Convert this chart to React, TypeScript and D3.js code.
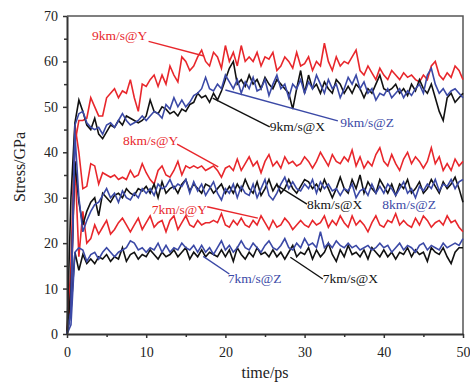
import { useEffect, useRef } from 'react';
import * as d3 from 'd3';

// time axis: 0 .. 50 ps, every 0.5 ps
const timePs = d3.range(0, 50.001, 0.5);

const y9 = [0, 12, 42, 47, 47, 47.5, 52, 50, 48, 48, 52, 53, 54, 52, 53.5, 53, 56, 52, 49, 55, 54.5, 56, 57, 54.5, 57, 55, 59, 57, 55.5, 61, 60, 58, 59, 61, 62.5, 60, 59, 62, 61, 58.5, 63.5, 60, 62, 59, 63.5, 60, 61, 60, 62, 59, 61, 60.5, 62, 58, 59, 61, 60, 58.5, 62, 59, 59.5, 61, 58, 60, 59, 64, 60, 58, 61, 59, 60, 59.5, 61, 62.5, 58, 57, 59, 57.5, 56, 58.5, 57, 56, 58, 57, 56, 57.5, 56.5, 57, 56, 55.5, 57, 56, 59, 60, 57, 56, 57.5, 56.5, 59, 58, 56];
const x9 = [0, 30, 46.5, 51.5, 49, 46, 45, 47.5, 44, 43, 44.5, 46, 45.5, 47, 46, 48, 47.5, 47, 46.5, 47, 48, 51.5, 49, 48.5, 50, 49.5, 48.5, 49, 48, 49.5, 49, 50.5, 51, 53, 52, 52.5, 51, 53, 51.5, 53.5, 56, 58.5, 60, 55, 56, 54.5, 57, 55, 56, 54, 56.5, 55, 54, 56, 55, 54, 53, 49.5, 54, 58, 53, 57, 54, 55, 53, 55.5, 54, 53, 56, 55, 53, 54.5, 53, 55, 54, 52, 54, 53, 55, 57, 54, 53.5, 54, 55, 53, 54, 52.5, 55, 53.5, 56, 54, 53, 55, 52, 49, 47, 52, 53, 51, 52, 53];
const z9 = [0, 5, 46, 48.5, 49, 46.5, 45.5, 45, 45.5, 44, 46, 46.5, 45.5, 47, 48.5, 47, 46, 46.5, 47, 48, 47, 48, 49, 48.5, 47.5, 50.5, 49.5, 52, 50, 51.5, 50, 51, 52.5, 53, 54, 56.5, 54, 53.5, 55, 54, 57, 55.5, 54, 56, 53, 55.5, 54, 56.5, 53.5, 54, 56, 52.5, 55, 57, 54, 55, 52, 55, 54, 56, 53, 55.5, 54, 57, 55, 53, 56, 54, 55, 52, 54, 56.5, 55, 57, 54, 55.5, 53, 54, 51.5, 53, 52.5, 54, 52, 53, 54, 52, 53.5, 52.5, 54, 55, 53, 57, 58.5, 55, 53, 54, 52.5, 53.5, 54, 53, 52];

const y8 = [0, 15, 46, 40, 32, 32.5, 37.5, 37, 33, 35.5, 35, 34.5, 35, 34, 34.5, 34, 36, 34.5, 35, 37.5, 35.5, 34, 33, 36, 37, 35, 34.5, 36, 38, 35, 37, 36.5, 37, 36.5, 37, 36, 36.5, 37, 36, 34.5, 36.5, 37, 36, 38.5, 36, 37.5, 39, 37, 38, 35.5, 38, 39.5, 37, 38, 36.5, 39, 37.5, 38, 37, 37.5, 39, 38, 36.5, 38, 40, 38.5, 37, 39.5, 38, 37.5, 39, 38, 40.5, 37, 39, 36.5, 38, 37, 39.5, 41, 38, 37, 39.5, 37.5, 36, 38.5, 40, 37.5, 39, 38, 36.5, 38, 41, 37.5, 39, 36, 37.5, 36, 38.5, 37, 38];
const x8 = [0, 10, 38, 29, 24, 27, 29, 30, 26, 31, 30, 29, 30.5, 31, 30, 32, 31, 30.5, 32, 31.5, 32.5, 31, 33, 30, 33.5, 31, 32, 32.5, 31, 33, 34, 31.5, 33, 32, 31, 33, 32.5, 31, 32, 33, 31, 32.5, 31, 33, 31.5, 34, 32, 31, 33.5, 30.5, 32, 34, 31.5, 33, 31, 32, 34, 32, 31, 32.5, 34, 33.5, 32, 33, 31.5, 34, 32, 30, 32, 34.5, 32, 31, 34, 32, 35, 31, 33.5, 32, 31, 34, 32.5, 31, 33, 30.5, 33, 32, 34, 31, 32, 33.5, 31, 32, 34, 32.5, 31, 33.5, 32, 33, 34.5, 32, 29];
const z8 = [0, 5, 44, 30, 22.5, 25, 27, 28.5, 29, 30.5, 32, 30, 31, 29, 31.5, 30, 29.5, 31, 30, 32, 31, 32, 30.5, 33, 32, 32.5, 34, 32, 33, 32.5, 34, 31, 33.5, 31.5, 33, 30.5, 32, 33.5, 31, 29.5, 32, 31, 33, 30, 32.5, 31, 30.5, 33, 30, 32, 34, 30.5, 29.5, 31, 33, 34.5, 32, 33.5, 32, 31.5, 33, 32, 34, 31, 33.5, 32, 33, 31.5, 32, 30.5, 32, 31.5, 33, 30, 31.5, 32, 30.5, 33, 31, 32.5, 31, 33, 32, 30.5, 32, 33.5, 31, 32, 30, 32.5, 31.5, 33, 32, 34, 31.5, 33, 32.5, 34, 32, 33.5, 34];

const y7 = [0, 8, 38, 17, 27, 20, 21, 24, 22, 23.5, 25, 22, 23, 24.5, 25.5, 24, 22.5, 24, 25.5, 23, 24.5, 26, 23.5, 24.5, 25, 22.5, 25, 26, 23, 24.5, 26, 24, 23.5, 25, 24, 24.5, 24.5, 25, 24.5, 26.5, 24, 23.5, 25, 24, 25.5, 24, 23.5, 25, 24, 26, 24.5, 23, 25, 23.5, 24, 25.5, 24.5, 23, 24, 25, 24, 23.5, 25, 24, 24.5, 26, 23.5, 25, 24, 26, 24.5, 23.5, 26, 24, 25, 24, 22.5, 24.5, 26, 24, 23.5, 25, 24.5, 26.5, 24, 25, 24, 23.5, 25.5, 24, 26, 25, 23.5, 24.5, 25, 24, 26, 24.5, 25, 23.5, 22.5];
const x7 = [0, 5, 18, 14, 17.5, 15.5, 16.5, 15.5, 17, 16.5, 17.5, 16, 17, 16.5, 19, 16, 17.5, 18, 16.5, 17.5, 17, 18.5, 17.5, 16.5, 18, 17, 17.5, 18.5, 17, 18, 19, 16.5, 18, 17, 18.5, 17, 18, 17.5, 17, 18.5, 17, 18.5, 16, 19, 17.5, 16.5, 18, 17, 19, 17.5, 18, 17, 18.5, 17, 18, 16.5, 18, 19.5, 17, 18, 17.5, 19, 16.5, 18.5, 17, 18, 20, 17.5, 16, 18.5, 17, 19.5, 17.5, 18, 17, 18.5, 16.5, 19, 18, 17, 18.5, 17, 18, 16.5, 18, 17.5, 19, 17, 18.5, 17.5, 18, 16, 19, 18, 17.5, 19, 17, 15.5, 18, 19, 19];
const z7 = [0, 2, 18, 19, 18.5, 16, 17.5, 18, 16.5, 18, 19, 18, 17, 18, 18.5, 19, 20.5, 20, 18.5, 19, 18, 19, 18.5, 20, 18, 19.5, 18, 19, 18.5, 20, 19, 18.5, 19.5, 18, 19.5, 18, 19, 17.5, 19, 20.5, 18.5, 19.5, 18, 19, 20.5, 19, 18.5, 20, 19, 18, 19.5, 20.5, 19, 18.5, 19.5, 21, 19, 18.5, 20, 19, 21, 19.5, 20, 19, 22.5, 19, 20, 19, 20.5, 19.5, 19, 20, 19, 19.5, 18.5, 19, 19.5, 18.5, 19, 20, 19, 19.5, 18, 19, 20, 18.5, 19.5, 19, 18, 19.5, 20, 18.5, 19.5, 19, 18.5, 20, 19, 19.5, 20, 19.5, 21];

const RED = "#e8272c";
const BLACK = "#111111";
const BLUE = "#3b49a6";

// drawn in this order (blue ends up on top)
const series = [
    { name: "9km/s@Y", color: RED, values: y9 },
    { name: "8km/s@Y", color: RED, values: y8 },
    { name: "7km/s@Y", color: RED, values: y7 },
    { name: "9km/s@X", color: BLACK, values: x9 },
    { name: "8km/s@X", color: BLACK, values: x8 },
    { name: "7km/s@X", color: BLACK, values: x7 },
    { name: "9km/s@Z", color: BLUE, values: z9 },
    { name: "8km/s@Z", color: BLUE, values: z8 },
    { name: "7km/s@Z", color: BLUE, values: z7 },
];

// labels in data units: text anchor (t, stress) and optional leader line
const labels: { text: string; color: string; at: [number, number]; line?: [number, number, number, number] }[] = [
    { text: "9km/s@Y", color: RED, at: [3.16, 64.8], line: [10.3, 64.4, 17.3, 61.2] },
    { text: "8km/s@Y", color: RED, at: [7.07, 41.6], line: [13.9, 41.8, 19.1, 36.8] },
    { text: "7km/s@Y", color: RED, at: [10.7, 26.4], line: [17.7, 28.0, 24.1, 25.5] },
    { text: "9km/s@X", color: BLACK, at: [25.6, 44.7], line: [18.4, 51.9, 25.6, 45.6] },
    { text: "9km/s@Z", color: BLUE, at: [34.5, 45.6], line: [20.0, 53.7, 34.2, 46.9] },
    { text: "8km/s@X", color: BLACK, at: [30.3, 27.5], line: [26.6, 32.6, 30.3, 28.6] },
    { text: "8km/s@Z", color: BLUE, at: [39.8, 27.5] },
    { text: "7km/s@Z", color: BLUE, at: [20.3, 11.2], line: [17.2, 17.1, 20.5, 13.2] },
    { text: "7km/s@X", color: BLACK, at: [32.3, 11.2], line: [28.2, 16.9, 32.3, 12.1] },
];

const xTicks = [0, 10, 20, 30, 40, 50];
const yTicks = [0, 10, 20, 30, 40, 50, 60, 70];

const width = 470;
const height = 383;
const margin = { top: 16, right: 7, bottom: 49, left: 67 };
const FONT = "'Liberation Serif', 'Times New Roman', serif";

export default function App() {
    const svgRef = useRef<SVGSVGElement>(null);

    useEffect(() => {
        if (!svgRef.current) return;
        const svg = d3.select(svgRef.current);
        svg.selectAll("*").remove();

        const w = width - margin.left - margin.right;
        const h = height - margin.top - margin.bottom;

        const x = d3.scaleLinear().domain([0, 50]).range([0, w]);
        const y = d3.scaleLinear().domain([0, 70]).range([h, 0]);

        const g = svg.append("g").attr("transform", `translate(${margin.left},${margin.top})`);

        // top / right frame
        g.append("path")
            .attr("d", `M0,0H${w}V${h}`)
            .attr("fill", "none")
            .attr("stroke", "#555")
            .attr("stroke-width", 1.5);

        // curves
        const line = d3.line<number>()
            .x((_, i) => x(timePs[i]))
            .y(d => y(d));

        g.selectAll(".curve")
            .data(series)
            .enter()
            .append("path")
            .attr("class", "curve")
            .attr("d", d => line(d.values))
            .attr("fill", "none")
            .attr("stroke", d => d.color)
            .attr("stroke-width", 1.6)
            .attr("stroke-linejoin", "miter");

        // minor ticks
        g.append("g")
            .attr("transform", `translate(0,${h})`)
            .call(d3.axisBottom(x).tickValues(d3.range(5, 50, 10)).tickSize(3).tickFormat(() => ""))
            .call(s => s.select(".domain").remove())
            .selectAll("line").attr("stroke", "#333").attr("stroke-width", 1.5);
        g.append("g")
            .call(d3.axisLeft(y).tickValues(d3.range(5, 70, 10)).tickSize(3).tickFormat(() => ""))
            .call(s => s.select(".domain").remove())
            .selectAll("line").attr("stroke", "#333").attr("stroke-width", 1.5);

        // major axes
        const xAxis = g.append("g")
            .attr("transform", `translate(0,${h})`)
            .call(d3.axisBottom(x).tickValues(xTicks).tickSize(4).tickPadding(9).tickSizeOuter(0));
        const yAxis = g.append("g")
            .call(d3.axisLeft(y).tickValues(yTicks).tickSize(4).tickPadding(5).tickSizeOuter(0));

        [xAxis, yAxis].forEach(a => {
            a.select(".domain").attr("stroke", "#333").attr("stroke-width", 2);
            a.selectAll(".tick line").attr("stroke", "#333").attr("stroke-width", 1.5);
            a.selectAll("text")
                .style("font-family", FONT)
                .style("font-size", "14px")
                .attr("fill", "#222");
        });

        // annotations
        labels.forEach(l => {
            if (l.line) {
                g.append("line")
                    .attr("x1", x(l.line[0])).attr("y1", y(l.line[1]))
                    .attr("x2", x(l.line[2])).attr("y2", y(l.line[3]))
                    .attr("stroke", l.color)
                    .attr("stroke-width", 1.4);
            }
            g.append("text")
                .attr("x", x(l.at[0]))
                .attr("y", y(l.at[1]))
                .attr("fill", l.color)
                .style("font-family", FONT)
                .style("font-size", "13.5px")
                .text(l.text);
        });

        // axis titles
        svg.append("text")
            .attr("x", margin.left + w / 2)
            .attr("y", 378)
            .attr("text-anchor", "middle")
            .attr("fill", "#222")
            .style("font-family", FONT)
            .style("font-size", "16px")
            .text("time/ps");

        svg.append("text")
            .attr("transform", `translate(25,167) rotate(-90)`)
            .attr("text-anchor", "middle")
            .attr("fill", "#222")
            .style("font-family", FONT)
            .style("font-size", "16px")
            .text("Stress/GPa");
    }, []);

    return (
        <svg
            ref={svgRef}
            width={width}
            height={height}
            style={{ position: "absolute", left: 0, top: 0, background: "#fff" }}
        />
    );
}
